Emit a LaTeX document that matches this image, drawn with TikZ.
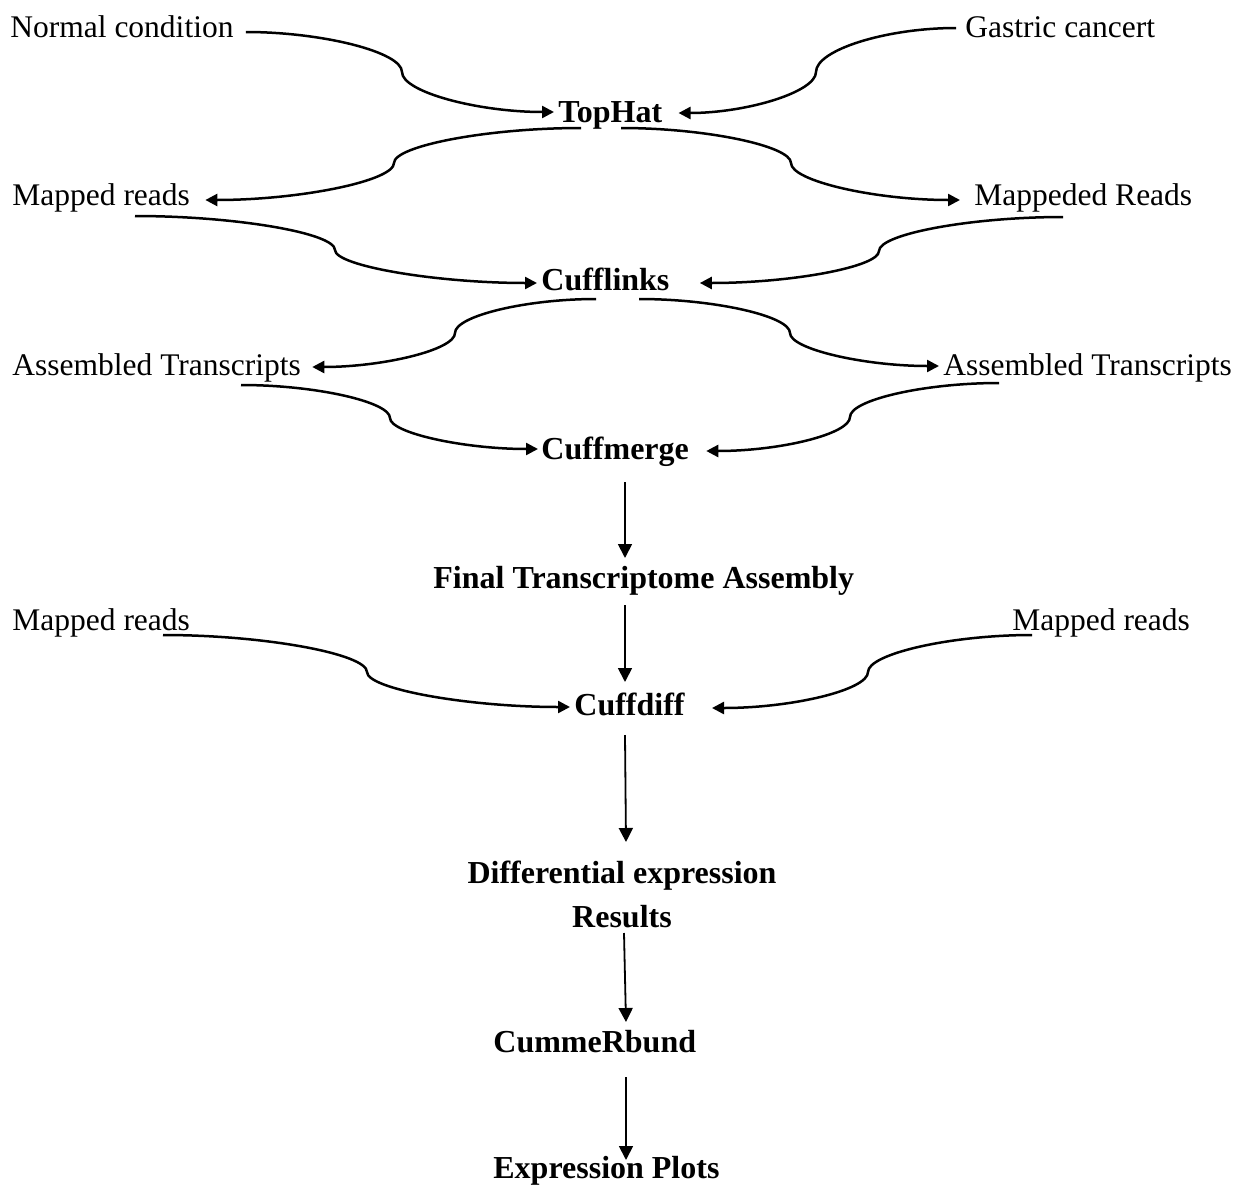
\documentclass[tikz,border=0pt]{standalone}
\usepackage{fontspec}
\setmainfont{Liberation Serif}
\usetikzlibrary{arrows.meta,calc}
\begin{document}
\begin{tikzpicture}[x=0.5pt,y=-0.5pt,
  lbl/.style={anchor=base west,inner sep=0pt,font=\fontsize{15.75}{22}\selectfont},
  tool/.style={lbl,font=\fontsize{16}{22}\selectfont\bfseries},
  curve/.style={line width=1.25pt,-{Triangle[length=6pt,width=6pt]}},
  down/.style={line width=0.9pt,-{Triangle[length=7pt,width=7pt]}}]
\useasboundingbox (0,0) rectangle (1249,1189);

% nodes
\node[lbl]  (normal)    at (10,37)   {Normal condition};
\node[lbl]  (gastric)   at (965,37)  {Gastric cancert};
\node[tool] (tophat)    at (558,122) {TopHat};
\node[lbl]  (mr1)       at (12,205)  {Mapped reads};
\node[lbl]  (mr2)       at (974,205) {Mappeded Reads};
\node[tool] (cufflinks) at (541,290) {Cufflinks};
\node[lbl]  (at1)       at (12,375)  {Assembled Transcripts};
\node[lbl]  (at2)       at (943,375) {Assembled Transcripts};
\node[tool] (cuffmerge) at (541,459) {Cuffmerge};
\node[tool] (final)     at (433,588) {Final Transcriptome Assembly};
\node[lbl]  (mr3)       at (12,630)  {Mapped reads};
\node[lbl]  (mr4)       at (1012,630) {Mapped reads};
\node[tool] (cuffdiff)  at (574,715) {Cuffdiff};
\node[tool,anchor=base,align=center] (diff) at (622,927) {Differential expression\\Results};
\node[tool] (cumme)     at (493,1052) {CummeRbund};
\node[tool] (plots)     at (493,1178) {Expression Plots};

% curved connectors
\draw[curve] ($(normal.base east)+(12,-5)$) .. controls +(76,0) and +(0,-20) .. (402,72)
  .. controls +(0,20) and +(-76,0) .. ($(tophat.base west)+(-4,-10)$);
\draw[curve] ($(gastric.base west)+(-9,-9)$) .. controls +(-70,0) and +(0,-22) .. (816,72)
  .. controls +(0,20) and +(68,0) .. ($(tophat.base east)+(16,-9)$);
\draw[curve] ($(tophat.base west)+(23,6)$) .. controls +(-94,0) and +(0,-17) .. (394,163)
  .. controls +(0,18) and +(94,0) .. ($(mr1.base east)+(15,-5)$);
\draw[curve] ($(tophat.base west)+(63,6)$) .. controls +(85,0) and +(0,-17) .. (791,163)
  .. controls +(0,18) and +(-85,0) .. ($(mr2.base west)+(-14,-5)$);
\draw[curve] ($(mr1.base west)+(123,11)$) .. controls +(100,0) and +(0,-17) .. (335,250)
  .. controls +(0,16) and +(-100,0) .. ($(cufflinks.base west)+(-4,-7)$);
\draw[curve] ($(mr2.base west)+(89,12)$) .. controls +(-92,0) and +(0,-17) .. (879,251)
  .. controls +(0,16) and +(91,0) .. ($(cufflinks.base east)+(30,-7)$);
\draw[curve] ($(cufflinks.base west)+(55,9)$) .. controls +(-70,0) and +(0,-17) .. (455,333)
  .. controls +(0,17) and +(70,0) .. ($(at1.base east)+(11,-8)$);
\draw[curve] ($(cufflinks.base west)+(98,9)$) .. controls +(75,0) and +(0,-17) .. (790,333)
  .. controls +(0,16) and +(-75,0) .. ($(at2.base west)+(-4,-9)$);
\draw[curve] ($(at1.base west)+(229,10)$) .. controls +(75,0) and +(0,-16) .. (390,418)
  .. controls +(0,15) and +(-74,0) .. ($(cuffmerge.base west)+(-3,-10)$);
\draw[curve] ($(at2.base west)+(56,8)$) .. controls +(-75,0) and +(0,-17) .. (850,417)
  .. controls +(0,17) and +(74,0) .. ($(cuffmerge.base east)+(17,-8)$);
\draw[curve] ($(mr3.base west)+(151,5)$) .. controls +(102,0) and +(0,-18) .. (367,672)
  .. controls +(0,17) and +(-102,0) .. ($(cuffdiff.base west)+(-4,-8)$);
\draw[curve] ($(mr4.base west)+(20,5)$) .. controls +(-82,0) and +(0,-18) .. (868,672)
  .. controls +(0,18) and +(80,0) .. ($(cuffdiff.base east)+(27,-7)$);

% straight connectors
\draw[down] ($(cuffmerge.base west)+(84,23)$) -- ($(final.base west)+(192,-30)$);
\draw[down] ($(final.base west)+(192,17)$) -- ($(cuffdiff.base west)+(51,-33)$);
\draw[down] ($(cuffdiff.base west)+(51,20)$) -- ($(diff.base)+(4,-85)$);
\draw[down] ($(diff.base)+(2,6)$) -- ($(cumme.base west)+(133,-30)$);
\draw[down] ($(cumme.base west)+(133,25)$) -- ($(plots.base west)+(133,-18)$);
\end{tikzpicture}
\end{document}
